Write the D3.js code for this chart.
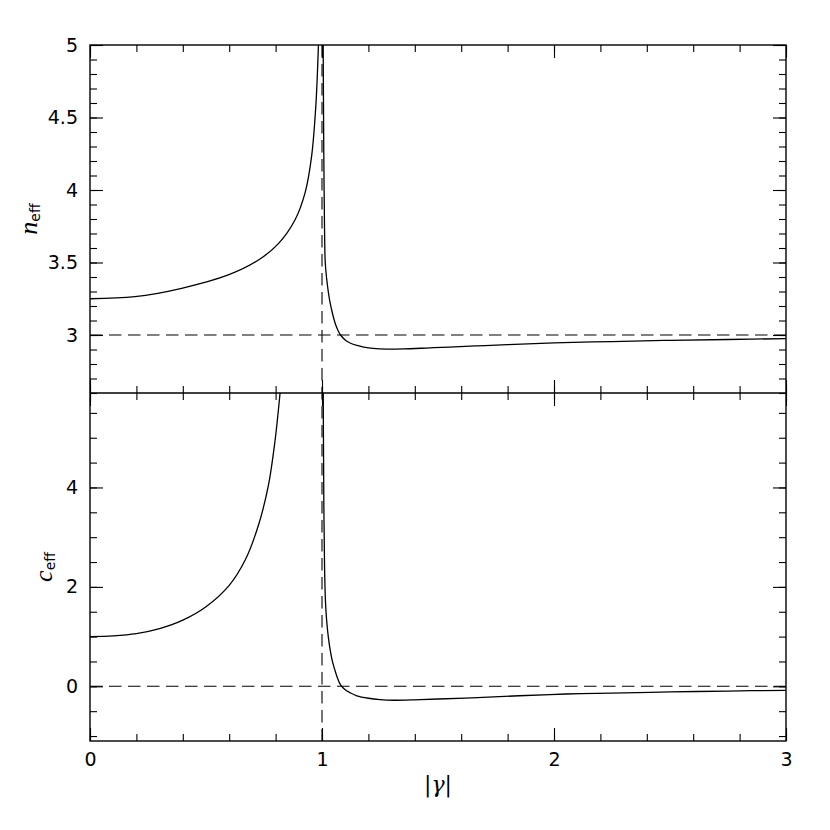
<!DOCTYPE html>
<html><head><meta charset="utf-8">
<script src="https://cdn.jsdelivr.net/npm/d3@7"></script>
<style>
body{margin:0;background:#fff;}
svg{display:block;}
</style></head>
<body><svg id="c" width="830" height="830"></svg>
<script>
// |gamma| values and effective parameters
const nLeftGamma = [0, 0.194, 0.395, 0.596, 0.726, 0.812, 0.884, 0.927, 0.955, 0.973, 0.984, 0.99];
const nLeftVal   = [3.25, 3.264, 3.322, 3.414, 3.517, 3.63, 3.795, 3.98, 4.23, 4.57, 4.97, 5.35];
const nRightGamma = [1.004, 1.006, 1.008, 1.011, 1.014, 1.02, 1.027, 1.034, 1.045, 1.056, 1.068, 1.08, 1.1, 1.121, 1.15, 1.18, 1.22, 1.28, 1.35, 1.45, 1.55, 1.67, 1.8, 2.0, 2.25, 2.5, 2.75, 3.0];
const nRightVal   = [5.4, 4.7, 4.2, 3.72, 3.5, 3.39, 3.3, 3.23, 3.15, 3.085, 3.035, 3.0, 2.965, 2.945, 2.928, 2.917, 2.908, 2.903, 2.904, 2.91, 2.917, 2.925, 2.933, 2.945, 2.955, 2.963, 2.969, 2.975];
const cLeftGamma = [0, 0.1, 0.2, 0.3, 0.4, 0.5, 0.6, 0.67, 0.726, 0.769, 0.797, 0.819, 0.83];
const cLeftVal   = [1.0, 1.015, 1.06, 1.16, 1.33, 1.6, 2.03, 2.55, 3.24, 4.04, 4.92, 5.89, 6.5];
const cRightGamma = [1.004, 1.006, 1.008, 1.011, 1.015, 1.02, 1.027, 1.034, 1.045, 1.056, 1.068, 1.08, 1.1, 1.121, 1.15, 1.2, 1.25, 1.31, 1.4, 1.5, 1.67, 1.85, 2.05, 2.25, 2.5, 2.75, 3.0];
const cRightVal   = [7.5, 5.2, 3.6, 2.4, 1.7, 1.33, 1.0, 0.77, 0.5, 0.32, 0.15, 0.03, -0.07, -0.13, -0.19, -0.24, -0.268, -0.28, -0.272, -0.255, -0.228, -0.19, -0.155, -0.135, -0.113, -0.095, -0.08];
const refN = 3, refC = 0, refGamma = 1;
const xMajor = [0, 1, 2, 3];
const nMajor = [3, 3.5, 4, 4.5, 5];
const cMajor = [0, 2, 4];

const svg = d3.select("#c");
const L = 90, R = 786, T = 45, M = 393, B = 741;
const x = d3.scaleLinear().domain([0, 3]).range([L, R]);
const yN = d3.scaleLinear().domain([2.6, 5]).range([M, T]);
const yC = d3.scaleLinear().domain([-1.1, 5.9]).range([B, M]);

const xMinor = d3.range(0, 3.0001, 0.2).map(v => +v.toFixed(2));
const nMinor = d3.range(2.6, 5.0001, 0.1).map(v => +v.toFixed(2));
const cMinor = d3.range(-1, 5.9, 0.5).map(v => +v.toFixed(2));

const tickFont = "'DejaVu Sans',Arial,sans-serif";
function ticks(g, axisFn, scale, vals, size, labels) {
  const a = axisFn(scale).tickValues(vals).tickSizeInner(size).tickSizeOuter(0).tickPadding(12);
  if (!labels) a.tickFormat("");
  else a.tickFormat(d3.format("~g"));
  g.call(a);
  g.attr("font-family", null).attr("font-size", null);
  g.select(".domain").remove();
  g.selectAll(".tick line").attr("stroke","#000").attr("stroke-width",1.1);
  g.selectAll(".tick text").style("font-family",tickFont).style("font-size","19px").attr("fill","#000");
}

function panel(y, top, bot, majors, minors) {
  ticks(svg.append("g").attr("transform",`translate(${L},0)`), d3.axisLeft, y, minors, -7, false);
  ticks(svg.append("g").attr("transform",`translate(${L},0)`), d3.axisLeft, y, majors, -13, true);
  ticks(svg.append("g").attr("transform",`translate(${R},0)`), d3.axisRight, y, minors, -7, false);
  ticks(svg.append("g").attr("transform",`translate(${R},0)`), d3.axisRight, y, majors, -13, false);
  ticks(svg.append("g").attr("transform",`translate(0,${top})`), d3.axisTop, x, xMinor, -7, false);
  ticks(svg.append("g").attr("transform",`translate(0,${top})`), d3.axisTop, x, xMajor, -13, false);
  ticks(svg.append("g").attr("transform",`translate(0,${bot})`), d3.axisBottom, x, xMinor, -7, false);
  ticks(svg.append("g").attr("transform",`translate(0,${bot})`), d3.axisBottom, x, xMajor, -13, bot === B);
}
panel(yN, T, M, nMajor, nMinor);
panel(yC, M, B, cMajor, cMinor);

const defs = svg.append("defs");
defs.append("clipPath").attr("id","cpN").append("rect").attr("x",L).attr("y",T).attr("width",R-L).attr("height",M-T);
defs.append("clipPath").attr("id","cpC").append("rect").attr("x",L).attr("y",M).attr("width",R-L).attr("height",B-M);

const dash = "12.5,6.5";
svg.append("line").attr("x1",L).attr("x2",R).attr("y1",yN(refN)).attr("y2",yN(refN))
  .attr("stroke","#000").attr("stroke-width",1.1).attr("stroke-dasharray",dash);
svg.append("line").attr("x1",L).attr("x2",R).attr("y1",yC(refC)).attr("y2",yC(refC))
  .attr("stroke","#000").attr("stroke-width",1.1).attr("stroke-dasharray",dash);
svg.append("line").attr("x1",x(refGamma)).attr("x2",x(refGamma)).attr("y1",T).attr("y2",B)
  .attr("stroke","#000").attr("stroke-width",1.1).attr("stroke-dasharray",dash);

function curve(gs, vs, y, clip) {
  const pts = gs.map((g,i)=>[g, vs[i]]);
  const line = d3.line().x(d=>x(d[0])).y(d=>y(d[1])).curve(d3.curveCatmullRom.alpha(0.5));
  svg.append("path").attr("d", line(pts)).attr("fill","none").attr("stroke","#000")
    .attr("stroke-width",1.3).attr("clip-path",`url(#${clip})`);
}
curve(nLeftGamma, nLeftVal, yN, "cpN");
curve(nRightGamma, nRightVal, yN, "cpN");
curve(cLeftGamma, cLeftVal, yC, "cpC");
curve(cRightGamma, cRightVal, yC, "cpC");

svg.append("rect").attr("x",L).attr("y",T).attr("width",R-L).attr("height",B-T)
  .attr("fill","none").attr("stroke","#000").attr("stroke-width",1.4);
svg.append("line").attr("x1",L).attr("x2",R).attr("y1",M).attr("y2",M).attr("stroke","#000").attr("stroke-width",1.6);

function ylabel(sym, tx, ty) {
  const t = svg.append("text").attr("transform",`translate(${tx},${ty}) rotate(-90)`)
    .attr("text-anchor","middle").style("font-family","'Liberation Serif','DejaVu Serif',serif").style("font-size","26px");
  t.append("tspan").style("font-style","italic").text(sym);
  t.append("tspan").attr("dy",3).style("font-size","14px").style("font-family",tickFont).text("eff");
}
ylabel("n", 37, (T+M)/2);
ylabel("c", 52, (M+B)/2);

const xl = svg.append("text").attr("x",(L+R)/2).attr("y",792).attr("text-anchor","middle")
  .style("font-family","'DejaVu Serif',serif").style("font-size","22px");
xl.append("tspan").text("|");
xl.append("tspan").style("font-style","italic").text("γ");
xl.append("tspan").text("|");
</script></body></html>
